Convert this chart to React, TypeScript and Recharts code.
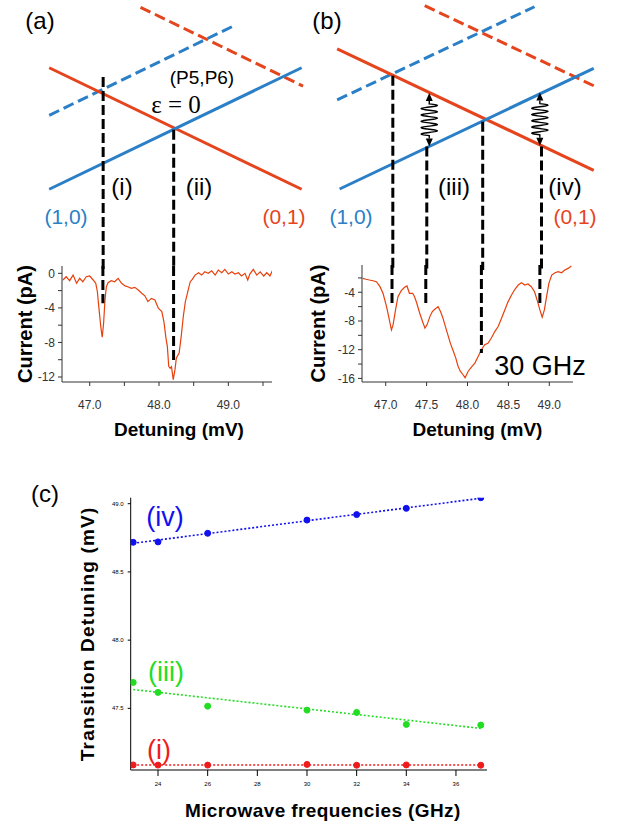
import React from "react";
import { ComposedChart, LineChart, Line, XAxis, YAxis, ReferenceLine } from "recharts";

const FONT = '"Liberation Sans", Arial, sans-serif';
const RED = "#e5441c";
const BLUE = "#2a7fc6";
const TRACE = "#e8400c";

// ---- panel (a) measured trace ----
const detA = [46.614, 46.66, 46.71, 46.76, 46.81, 46.855, 46.9, 46.95, 47.0, 47.05, 47.087, 47.11, 47.135, 47.16, 47.18, 47.2, 47.22, 47.24, 47.265, 47.31, 47.36, 47.41, 47.46, 47.51, 47.55, 47.6, 47.65, 47.7, 47.75, 47.795, 47.84, 47.89, 47.94, 47.99, 48.04, 48.07, 48.1, 48.12, 48.14, 48.16, 48.18, 48.205, 48.23, 48.25, 48.29, 48.32, 48.35, 48.38, 48.41, 48.45, 48.48, 48.52, 48.57, 48.615, 48.66, 48.71, 48.76, 48.81, 48.855, 48.905, 48.95, 49.0, 49.05, 49.095, 49.145, 49.19, 49.24, 49.28, 49.31, 49.36, 49.41, 49.46, 49.51, 49.555, 49.6, 49.635];
const curA = [-0.77, -0.39, -0.85, -0.2, -1.15, -0.58, -0.97, -0.39, -0.31, -0.77, -1.15, -2.1, -4.2, -6.2, -7.4, -5.8, -3.1, -1.55, -1.08, -0.85, -0.97, -0.58, -1.15, -1.46, -1.55, -1.73, -1.62, -1.93, -2.3, -2.6, -3.27, -2.9, -3.08, -4.04, -4.43, -5.58, -7.5, -8.46, -10.77, -11.0, -10.8, -12.3, -11.15, -9.8, -9.23, -7.3, -5.0, -3.27, -2.3, -0.97, -0.7, -0.2, 0.07, -0.2, 0.18, 0.0, 0.3, -0.2, 0.38, 0.07, 0.46, -0.08, 0.18, -0.08, 0.07, -0.31, 0.0, -0.77, -0.08, 0.46, -0.2, 0.18, -0.31, 0.07, -0.31, 0.3];

// ---- panel (b) measured trace (30 GHz) ----
const detB = [46.72, 46.76, 46.8, 46.845, 46.886, 46.93, 46.967, 47.01, 47.04, 47.07, 47.09, 47.12, 47.15, 47.19, 47.23, 47.26, 47.29, 47.33, 47.355, 47.38, 47.416, 47.45, 47.48, 47.505, 47.54, 47.57, 47.6, 47.64, 47.67, 47.7, 47.73, 47.76, 47.79, 47.82, 47.857, 47.885, 47.914, 47.946, 47.97, 48.007, 48.05, 48.09, 48.13, 48.17, 48.21, 48.25, 48.29, 48.334, 48.375, 48.416, 48.456, 48.497, 48.538, 48.58, 48.62, 48.66, 48.7, 48.74, 48.78, 48.82, 48.857, 48.885, 48.913, 48.94, 48.967, 48.995, 49.03, 49.07, 49.11, 49.15, 49.19, 49.23, 49.27];
const curB = [-2.06, -2.19, -2.29, -2.39, -2.53, -3.22, -4.14, -6.0, -7.61, -9.24, -8.54, -6.46, -4.61, -3.78, -3.31, -3.12, -4.14, -4.14, -4.7, -5.53, -6.92, -8.08, -9.0, -8.54, -7.39, -6.69, -6.36, -6.0, -6.69, -7.61, -8.78, -9.93, -11.08, -12.0, -13.17, -14.33, -15.03, -15.49, -15.9, -15.03, -14.4, -13.86, -12.94, -12.0, -11.3, -11.1, -10.4, -9.47, -8.78, -7.61, -6.46, -5.3, -4.38, -3.58, -2.99, -2.67, -2.99, -2.85, -3.22, -3.92, -5.3, -6.46, -7.47, -6.46, -4.61, -2.75, -1.6, -1.28, -1.14, -1.28, -0.9, -0.67, -0.35];

// ---- energy diagrams: endpoints (detuning, energy a.u.) ----
const aRedX = [46.41, 50.06], aRedE = [7.49, 2.99];
const aBlueX = [46.41, 50.06], aBlueE = [2.99, 7.49];
const aBlueDX = [46.41, 49.1], aBlueDE = [5.73, 9.07];
const aRedDX = [47.73, 50.08], aRedDE = [9.73, 6.81];
const aMarkX = [47.19, 48.21];
const aMarkTop = [7.15, 5.19];
const aMarkLow = [-3.46, -10.2];

const bRedX = [46.4, 49.52], bRedE = [8.19, 3.69];
const bBlueX = [46.43, 49.52], bBlueE = [3.0, 7.47];
const bBlueDX = [46.4, 48.8], bBlueDE = [6.3, 9.75];
const bRedDX = [47.465, 49.53], bRedDE = [9.79, 6.81];
const bMarkX = [47.077, 47.49, 48.17, 48.885];
const bMarkTop = [7.19, 4.57, 5.49, 4.57];
const bMarkLow = [-5.5, -5.76, -12.47, -5.76];
const waveX = [47.52, 48.865];
const waveLow = [4.57, 4.6];
const waveHigh = [6.56, 6.57];

// ---- panel (c) ----
const freqs = [23, 24, 26, 30, 32, 34, 37];
const lineIv = [48.717, 48.72, 48.783, 48.88, 48.92, 48.966, 49.044];
const lineIii = [47.69, 47.617, 47.516, 47.487, 47.47, 47.382, 47.377];
const lineI = [47.085, 47.084, 47.084, 47.089, 47.083, 47.085, 47.083];
const fitX = [23, 37];
const fitIv = [48.71, 49.04];
const fitIii = [47.638, 47.353];
const fitI = [47.085, 47.085];

const pts = (xs: number[], ys: number[]) => xs.map((x, i) => ({ x, y: ys[i] }));

function WavyArrow(props: any) {
  const { x1, y1, y2 } = props;
  const x = x1;
  const top = Math.min(y1, y2);
  const bot = Math.max(y1, y2);
  const head = 8;
  const hw = 3.5;
  const w0 = top + head + 3;
  const w1 = bot - head - 3;
  const cycles = 5;
  const amp = 8;
  let d = `M${x},${top + head} L${x},${w0}`;
  const n = 120;
  for (let k = 1; k <= n; k++) {
    const t = k / n;
    d += ` L${x + amp * Math.sin(2 * Math.PI * cycles * t)},${w0 + (w1 - w0) * t}`;
  }
  d += ` L${x},${bot - head}`;
  return (
    <g>
      <path d={d} fill="none" stroke="#000" strokeWidth={1.4} />
      <path d={`M${x},${top} L${x - hw},${top + head} L${x + hw},${top + head} Z`} fill="#000" />
      <path d={`M${x},${bot} L${x - hw},${bot - head} L${x + hw},${bot - head} Z`} fill="#000" />
    </g>
  );
}

function Txt({ x, y, size, color = "#000", family = FONT, children }: any) {
  return (
    <div
      style={{
        position: "absolute",
        left: x,
        top: y,
        transform: "translate(-50%, -50%)",
        fontSize: size,
        color,
        fontFamily: family,
        lineHeight: 1,
        whiteSpace: "nowrap",
      }}
    >
      {children}
    </div>
  );
}

const tickStyle = { fontSize: 12, fill: "#333", fontFamily: FONT };
const titleStyle = { fontSize: 19, fontWeight: "bold", fill: "#000", fontFamily: FONT };

function Diagram({ domain, lines, marks, waves }: any) {
  // an invisible carrier series so the chart has data on its number axes
  const frame = [
    { x: domain[0], y: 0 },
    { x: domain[1], y: 10 },
  ];
  return (
    <ComposedChart width={310} height={270} data={frame} margin={{ top: 0, right: 0, bottom: 0, left: 0 }}>
      <XAxis hide type="number" dataKey="x" domain={domain} allowDataOverflow height={0} />
      <YAxis hide type="number" domain={[0, 10]} allowDataOverflow width={0} />
      <Line dataKey="y" stroke="none" dot={false} activeDot={false} isAnimationActive={false} />
      {lines.map((l: any, i: number) => (
        <ReferenceLine
          key={i}
          segment={[
            { x: l.x[0], y: l.e[0] },
            { x: l.x[1], y: l.e[1] },
          ]}
          stroke={l.color}
          strokeWidth={3}
          strokeDasharray={l.dash ? "11 5" : undefined}
        />
      ))}
      {marks.x.map((x: number, i: number) => (
        <ReferenceLine
          key={"m" + i}
          segment={[{ x, y: marks.top[i] }, { x, y: 0 }]}
          stroke="#000"
          strokeWidth={3}
          strokeDasharray="10 4"
        />
      ))}
      {waves &&
        waves.x.map((x: number, i: number) => (
          <ReferenceLine
            key={"w" + i}
            segment={[{ x, y: waves.high[i] }, { x, y: waves.low[i] }]}
            shape={(p: any) => <WavyArrow {...p} />}
          />
        ))}
    </ComposedChart>
  );
}

export default function App() {
  const traceA = pts(detA, curA);
  const traceB = pts(detB, curB);
  return (
    <div style={{ position: "absolute", left: 0, top: 0, width: 618, height: 827, background: "#fff", fontFamily: FONT }}>
      {/* diagrams */}
      <div style={{ position: "absolute", left: 0, top: 0 }}>
        <Diagram
          domain={[45.6985, 50.181]}
          lines={[
            { x: aRedDX, e: aRedDE, color: RED, dash: true },
            { x: aBlueDX, e: aBlueDE, color: BLUE, dash: true },
            { x: aRedX, e: aRedE, color: RED },
            { x: aBlueX, e: aBlueE, color: BLUE },
          ]}
          marks={{ x: aMarkX, top: aMarkTop }}
        />
      </div>
      <div style={{ position: "absolute", left: 310, top: 0 }}>
        <Diagram
          domain={[46.0698, 49.8397]}
          lines={[
            { x: bRedDX, e: bRedDE, color: RED, dash: true },
            { x: bBlueDX, e: bBlueDE, color: BLUE, dash: true },
            { x: bRedX, e: bRedE, color: RED },
            { x: bBlueX, e: bBlueE, color: BLUE },
          ]}
          marks={{ x: bMarkX, top: bMarkTop }}
          waves={{ x: waveX, low: waveLow, high: waveHigh }}
        />
      </div>

      {/* panel (a) trace */}
      <div style={{ position: "absolute", left: 0, top: 250 }}>
        <LineChart width={290} height={200} data={traceA} margin={{ top: 16, right: 18, bottom: 0, left: 0 }}>
          <XAxis
            type="number"
            dataKey="x"
            domain={[46.6, 49.63]}
            allowDataOverflow
            ticks={[47, 47.5, 48, 48.5, 49, 49.5]}
            tickFormatter={(v: number) => (Number.isInteger(v) ? v.toFixed(1) : "")}
            height={68}
            tickSize={4}
            tickMargin={14}
            stroke="#333"
            tick={tickStyle}
            label={{ value: "Detuning (mV)", position: "insideBottom", offset: 14, dx: 12, style: titleStyle }}
          />
          <YAxis
            type="number"
            domain={[-12.58, 0.85]}
            allowDataOverflow
            ticks={[-12, -10, -8, -6, -4, -2, 0]}
            tickFormatter={(v: number) => (v % 4 === 0 ? String(v) : "")}
            width={62}
            tickSize={4}
            tickMargin={3}
            stroke="#333"
            tick={tickStyle}
            label={{ value: "Current (pA)", angle: -90, position: "insideLeft", offset: 25, style: { ...titleStyle, fontSize: 20, textAnchor: "middle" } }}
          />
          <Line dataKey="y" type="linear" stroke={TRACE} strokeWidth={1.2} dot={false} activeDot={false} isAnimationActive={false} />
          {aMarkX.map((x, i) => (
            <ReferenceLine key={i} segment={[{ x, y: 0.85 }, { x, y: aMarkLow[i] }]} stroke="#000" strokeWidth={3} strokeDasharray="10 4" />
          ))}
        </LineChart>
      </div>

      {/* panel (b) trace */}
      <div style={{ position: "absolute", left: 300, top: 250 }}>
        <LineChart width={290} height={200} data={traceB} margin={{ top: 15, right: 17, bottom: 0, left: 0 }}>
          <XAxis
            type="number"
            dataKey="x"
            domain={[46.71, 49.29]}
            allowDataOverflow
            ticks={[47, 47.5, 48, 48.5, 49]}
            tickFormatter={(v: number) => v.toFixed(1)}
            height={68}
            tickSize={4}
            tickMargin={14}
            stroke="#333"
            tick={tickStyle}
            label={{ value: "Detuning (mV)", position: "insideBottom", offset: 14, dx: 10, style: titleStyle }}
          />
          <YAxis
            type="number"
            domain={[-16.5, -0.2]}
            allowDataOverflow
            ticks={[-16, -14, -12, -10, -8, -6, -4, -2]}
            tickFormatter={(v: number) => (v % 4 === 0 ? String(v) : "")}
            width={62}
            tickSize={4}
            tickMargin={3}
            stroke="#333"
            tick={tickStyle}
            label={{ value: "Current (pA)", angle: -90, position: "insideLeft", offset: 18, style: { ...titleStyle, fontSize: 20, textAnchor: "middle" } }}
          />
          <Line dataKey="y" type="linear" stroke={TRACE} strokeWidth={1.2} dot={false} activeDot={false} isAnimationActive={false} />
          {bMarkX.map((x, i) => (
            <ReferenceLine key={i} segment={[{ x, y: -0.2 }, { x, y: bMarkLow[i] }]} stroke="#000" strokeWidth={3} strokeDasharray="10 4" />
          ))}
        </LineChart>
      </div>

      {/* panel (c) */}
      <div style={{ position: "absolute", left: 0, top: 460 }}>
        <ComposedChart width={500} height={367} margin={{ top: 37.7, right: 13, bottom: 0, left: 0 }}>
          <XAxis
            type="number"
            dataKey="x"
            domain={[22.9, 37.25]}
            allowDataOverflow
            ticks={[24, 26, 28, 30, 32, 34, 36]}
            height={57}
            tickSize={6}
            tickMargin={6}
            stroke="#000"
            tick={{ fontSize: 6, fill: "#000", fontFamily: FONT }}
            label={{ value: "Microwave frequencies (GHz)", position: "insideBottom", offset: 10, dx: 14, style: { ...titleStyle, fontSize: 19, letterSpacing: 0.4 } }}
          />
          <YAxis
            type="number"
            domain={[47.048, 49.044]}
            allowDataOverflow
            ticks={[47.5, 48, 48.5, 49]}
            tickFormatter={(v: number) => v.toFixed(1)}
            width={130.7}
            tickSize={3}
            tickMargin={4}
            stroke="#000"
            tick={{ fontSize: 6, fill: "#000", fontFamily: FONT }}
            label={{
              value: "Transition Detuning (mV)",
              angle: -90,
              position: "insideLeft",
              offset: 87,
              style: { ...titleStyle, fontSize: 19, letterSpacing: 1.2, textAnchor: "middle" },
            }}
          />
          <Line data={pts(fitX, fitIv)} dataKey="y" stroke="#1111ee" strokeWidth={1.6} strokeDasharray="2 2" dot={false} activeDot={false} isAnimationActive={false} />
          <Line data={pts(fitX, fitIii)} dataKey="y" stroke="#22dd22" strokeWidth={1.6} strokeDasharray="2 2" dot={false} activeDot={false} isAnimationActive={false} />
          <Line data={pts(fitX, fitI)} dataKey="y" stroke="#ee1c1c" strokeWidth={1.6} strokeDasharray="2 2" dot={false} activeDot={false} isAnimationActive={false} />
          <Line data={pts(freqs, lineIv)} dataKey="y" stroke="none" dot={{ r: 3, fill: "#1111ee", stroke: "#1111ee" }} activeDot={false} isAnimationActive={false} />
          <Line data={pts(freqs, lineIii)} dataKey="y" stroke="none" dot={{ r: 3, fill: "#22dd22", stroke: "#22dd22" }} activeDot={false} isAnimationActive={false} />
          <Line data={pts(freqs, lineI)} dataKey="y" stroke="none" dot={{ r: 3, fill: "#ee1c1c", stroke: "#ee1c1c" }} activeDot={false} isAnimationActive={false} />
        </ComposedChart>
      </div>

      {/* annotations */}
      <Txt x={40} y={21} size={24}>(a)</Txt>
      <Txt x={327} y={21} size={24}>(b)</Txt>
      <Txt x={45} y={494} size={24}>(c)</Txt>
      <Txt x={202} y={77} size={19}>(P5,P6)</Txt>
      <Txt x={176} y={104} size={25} family='"Liberation Serif", "Times New Roman", serif'>ε = 0</Txt>
      <Txt x={122} y={187} size={24}>(i)</Txt>
      <Txt x={199} y={187} size={24}>(ii)</Txt>
      <Txt x={66} y={216} size={21} color={BLUE}>(1,0)</Txt>
      <Txt x={284} y={216} size={21} color={RED}>(0,1)</Txt>
      <Txt x={454} y={187} size={24}>(iii)</Txt>
      <Txt x={565} y={187} size={24}>(iv)</Txt>
      <Txt x={351} y={216} size={21} color={BLUE}>(1,0)</Txt>
      <Txt x={575} y={216} size={21} color={RED}>(0,1)</Txt>
      <Txt x={540} y={366} size={27}>30 GHz</Txt>
      <Txt x={165} y={517} size={27} color="#1111ee">(iv)</Txt>
      <Txt x={166} y={672} size={27} color="#22dd22">(iii)</Txt>
      <Txt x={159} y={750} size={27} color="#ee1c1c">(i)</Txt>
    </div>
  );
}
